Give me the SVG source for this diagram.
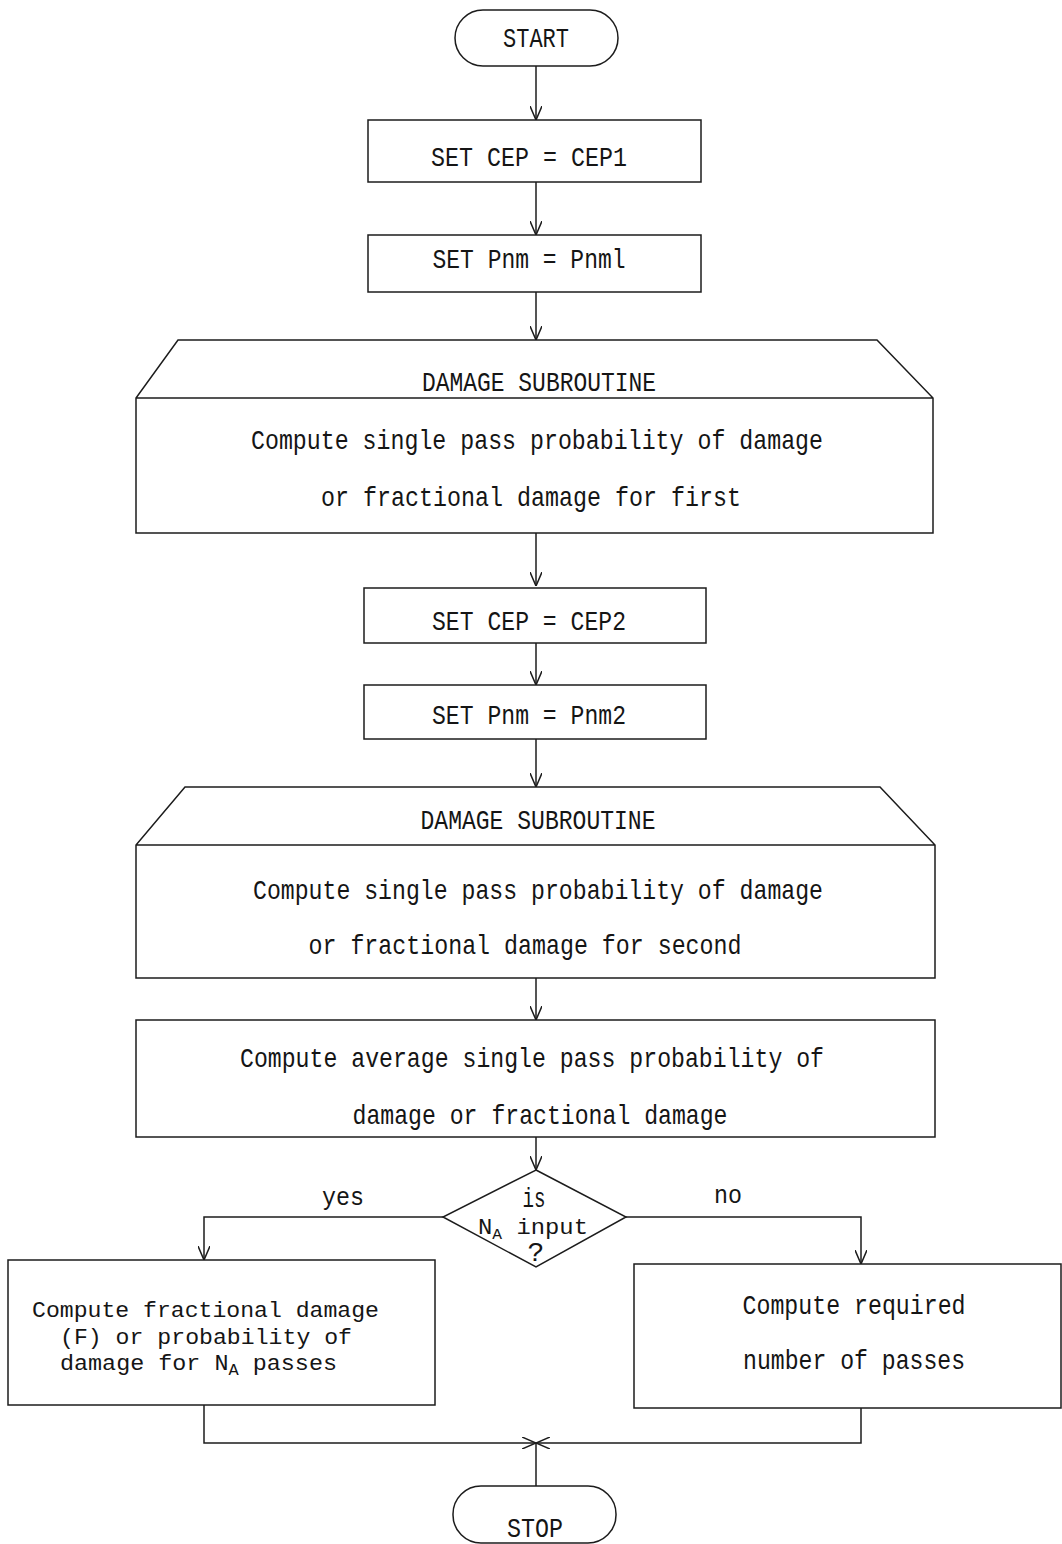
<svg xmlns="http://www.w3.org/2000/svg" width="1062" height="1544" viewBox="0 0 1062 1544">
<style>
.s{fill:none;stroke:#1c1c1c;stroke-width:1.5}
.t{font-family:"Liberation Mono","DejaVu Sans Mono",monospace;font-size:28px;fill:#151515;text-anchor:middle}
.l{font-family:"Liberation Mono","DejaVu Sans Mono",monospace;font-size:26px;fill:#151515}
.b{font-family:"Liberation Mono","DejaVu Sans Mono",monospace;font-size:22px;fill:#151515}
</style>
<defs>
<marker id="ah" viewBox="0 0 14 12" refX="14" refY="6" markerWidth="14" markerHeight="12" markerUnits="userSpaceOnUse" orient="auto">
<path d="M0,0 L14,6 L0,12" fill="none" stroke="#1c1c1c" stroke-width="1.5"/>
</marker>
</defs>
<rect width="1062" height="1544" fill="#ffffff"/>

<g id="connectors" class="s">
<path d="M536,66 V120" marker-end="url(#ah)"/>
<path d="M536,182 V235" marker-end="url(#ah)"/>
<path d="M536,292 V340" marker-end="url(#ah)"/>
<path d="M536,533 V586" marker-end="url(#ah)"/>
<path d="M536,643 V685" marker-end="url(#ah)"/>
<path d="M536,739 V787" marker-end="url(#ah)"/>
<path d="M536,978 V1020" marker-end="url(#ah)"/>
<path d="M536,1137 V1170" marker-end="url(#ah)"/>
<path d="M443,1217 H204 V1260" marker-end="url(#ah)"/>
<path d="M626,1217 H861 V1264" marker-end="url(#ah)"/>
<path d="M204,1405 V1443 H536" marker-end="url(#ah)"/>
<path d="M861,1408 V1443 H536" marker-end="url(#ah)"/>
<path d="M536,1443 V1486"/>
</g>
<g id="labels">
<text class="l" x="322" y="1205" textLength="42" lengthAdjust="spacingAndGlyphs">yes</text>
<text class="l" x="714" y="1203" textLength="28" lengthAdjust="spacingAndGlyphs">no</text>
</g>

<g id="start">
<rect class="s" x="455" y="10" width="163" height="56" rx="28"/>
<text class="t" x="536" y="47" textLength="66" lengthAdjust="spacingAndGlyphs">START</text>
</g>
<g id="set_cep1">
<rect class="s" x="368" y="120" width="333" height="62"/>
<text class="t" x="529" y="166" textLength="196" lengthAdjust="spacingAndGlyphs">SET CEP = CEP1</text>
</g>
<g id="set_pnm1">
<rect class="s" x="368" y="235" width="333" height="57"/>
<text class="t" x="529" y="268" textLength="193" lengthAdjust="spacingAndGlyphs">SET Pnm = Pnml</text>
</g>
<g id="damage1">
<path class="s" d="M178,340 H877 L933,398 V533 H136 V398 Z M136,398 H933"/>
<text class="t" x="539" y="391" textLength="234" lengthAdjust="spacingAndGlyphs">DAMAGE SUBROUTINE</text>
<text class="t" x="537" y="449" textLength="572" lengthAdjust="spacingAndGlyphs">Compute single pass probability of damage</text>
<text class="t" x="531" y="506" textLength="420" lengthAdjust="spacingAndGlyphs">or fractional damage for first</text>
</g>
<g id="set_cep2">
<rect class="s" x="364" y="588" width="342" height="55"/>
<text class="t" x="529" y="630" textLength="194" lengthAdjust="spacingAndGlyphs">SET CEP = CEP2</text>
</g>
<g id="set_pnm2">
<rect class="s" x="364" y="685" width="342" height="54"/>
<text class="t" x="529" y="724" textLength="194" lengthAdjust="spacingAndGlyphs">SET Pnm = Pnm2</text>
</g>
<g id="damage2">
<path class="s" d="M185,787 H880 L935,845 V978 H136 V845 Z M136,845 H935"/>
<text class="t" x="538" y="829" textLength="235" lengthAdjust="spacingAndGlyphs">DAMAGE SUBROUTINE</text>
<text class="t" x="538" y="899" textLength="570" lengthAdjust="spacingAndGlyphs">Compute single pass probability of damage</text>
<text class="t" x="525" y="954" textLength="433" lengthAdjust="spacingAndGlyphs">or fractional damage for second</text>
</g>
<g id="average">
<rect class="s" x="136" y="1020" width="799" height="117"/>
<text class="t" x="532" y="1067" textLength="584" lengthAdjust="spacingAndGlyphs">Compute average single pass probability of</text>
<text class="t" x="540" y="1124" textLength="375" lengthAdjust="spacingAndGlyphs">damage or fractional damage</text>
</g>
<g id="decision">
<path class="s" d="M536,1170 L626,1217 L536,1267 L443,1217 Z"/>
<text class="t" x="534" y="1207" font-size="22" textLength="23" lengthAdjust="spacingAndGlyphs">is</text>
<text class="b" x="478" y="1234" font-size="20" textLength="110" lengthAdjust="spacingAndGlyphs">N<tspan font-size="15" dy="5">A</tspan><tspan dy="-5"> input</tspan></text>
<text class="t" x="536" y="1261" font-size="16">?</text>
</g>
<g id="fractional">
<rect class="s" x="8" y="1260" width="427" height="145"/>
<text class="b" x="32" y="1317" textLength="347" lengthAdjust="spacingAndGlyphs">Compute fractional damage</text>
<text class="b" x="60" y="1344" textLength="292" lengthAdjust="spacingAndGlyphs">(F) or probability of</text>
<text class="b" x="60" y="1370" textLength="277" lengthAdjust="spacingAndGlyphs">damage for N<tspan font-size="16" dy="5">A</tspan><tspan dy="-5"> passes</tspan></text>
</g>
<g id="passes">
<rect class="s" x="634" y="1264" width="427" height="144"/>
<text class="t" x="854" y="1314" textLength="223" lengthAdjust="spacingAndGlyphs">Compute required</text>
<text class="t" x="854" y="1369" textLength="222" lengthAdjust="spacingAndGlyphs">number of passes</text>
</g>
<g id="stop">
<rect class="s" x="453" y="1486" width="163" height="57" rx="28"/>
<text class="t" x="535" y="1537" textLength="56" lengthAdjust="spacingAndGlyphs">STOP</text>
</g>
</svg>
